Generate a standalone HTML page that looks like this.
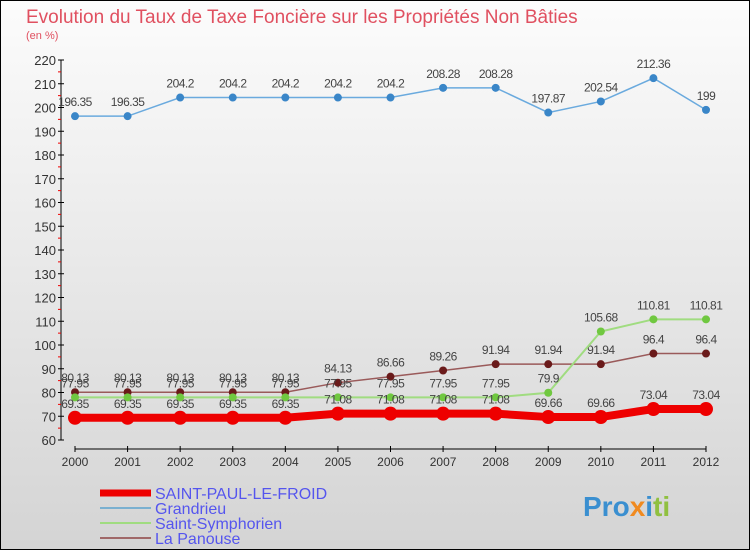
<!DOCTYPE html>
<html><head><meta charset="utf-8"><style>
body{margin:0}
svg text{font-family:"Liberation Sans",sans-serif}
</style></head><body>
<svg width="750" height="550" xmlns="http://www.w3.org/2000/svg">
<defs><linearGradient id="bg" x1="0" y1="0" x2="0" y2="1"><stop offset="0" stop-color="#fcfcfc"/><stop offset="1" stop-color="#d4d4d4"/></linearGradient></defs>
<rect x="0.5" y="0.5" width="749" height="549" fill="url(#bg)" stroke="#000"/>
<text x="26" y="23" font-size="19" fill="#e05060">Evolution du Taux de Taxe Foncière sur les Propriétés Non Bâties</text>
<text x="26" y="39" font-size="11" fill="#e05060">(en %)</text>
<g id="axes"></g>
<g id="series"></g>
<g id="legend"></g>
<text x="583" y="516" font-size="28" font-weight="bold" fill="#3a8fd0">Pro<tspan fill="#f08a20">x</tspan><tspan fill="#3a8fd0">i</tspan><tspan fill="#90c040">ti</tspan></text>
</svg>
<script>
const years=[2000,2001,2002,2003,2004,2005,2006,2007,2008,2009,2010,2011,2012];
const yTicks=[60,70,80,90,100,110,120,130,140,150,160,170,180,190,200,210,220];
const saintPaul=[69.35,69.35,69.35,69.35,69.35,71.08,71.08,71.08,71.08,69.66,69.66,73.04,73.04];
const grandrieu=[196.35,196.35,204.2,204.2,204.2,204.2,204.2,208.28,208.28,197.87,202.54,212.36,199];
const saintSymph=[77.95,77.95,77.95,77.95,77.95,77.95,77.95,77.95,77.95,79.9,105.68,110.81,110.81];
const laPanouse=[80.13,80.13,80.13,80.13,80.13,84.13,86.66,89.26,91.94,91.94,91.94,96.4,96.4];
const NS="http://www.w3.org/2000/svg";
const X=i=>75+i*(706-75)/12, Y=v=>60+(220-v)*380/160;
function mk(t,a,p){const e=document.createElementNS(NS,t);for(const k in a)e.setAttribute(k,a[k]);p.appendChild(e);return e;}
const ax=document.getElementById('axes');
let yl=mk('line',{x1:61,y1:60,x2:61,y2:440,stroke:'#000'},ax);

yTicks.forEach(v=>{mk('line',{x1:58,y1:Y(v),x2:64,y2:Y(v),stroke:'#000'},ax);
 if(v<220)mk('line',{x1:58,y1:Y(v+5),x2:61,y2:Y(v+5),stroke:'#e00'},ax);
 const t=mk('text',{x:56,y:Y(v)+5,'font-size':13,'text-anchor':'end',fill:'#333'},ax);t.textContent=v;
 });
let xl=mk('line',{x1:75,y1:449,x2:706,y2:449,stroke:'#000'},ax);

years.forEach((y,i)=>{mk('line',{x1:X(i),y1:446,x2:X(i),y2:452,stroke:'#000'},ax);
 const t=mk('text',{x:X(i),y:466,'font-size':12,'text-anchor':'middle',fill:'#333'},ax);t.textContent=y;
 });
const sg=document.getElementById('series');
function series(vals,color,dot,w,r,name){
 const g=mk('g',{},sg);
 mk('polyline',{points:vals.map((v,i)=>X(i)+','+Y(v)).join(' '),fill:'none',stroke:color,'stroke-width':w},g);
 vals.forEach((v,i)=>{const c=mk('circle',{cx:X(i),cy:Y(v),r:r,fill:dot},g);
  
  const t=mk('text',{x:X(i),y:Y(v)-10,'font-size':12,'text-anchor':'middle',fill:'#444','letter-spacing':'-0.5'},g);t.textContent=String(v);
  });
}
series(grandrieu,'#6aaade','#3a86c8',1.5,4,'grandrieu-series');
series(laPanouse,'#9a5a5a','#6a1a1a',1.5,4,'la-panouse-series');
series(saintSymph,'#a0dc80','#70c840',2,4,'saint-symphorien-series');
series(saintPaul,'#ee0000','#ee0000',8,7,'saint-paul-series');
const lg=document.getElementById('legend');
[['SAINT-PAUL-LE-FROID','#ee0000',7],['Grandrieu','#7ab0d0',2],['Saint-Symphorien','#a0dc80',2],['La Panouse','#a06868',2]].forEach((d,i)=>{
 const yy=493+i*15;
 const g=mk('g',{},lg);
 mk('line',{x1:100,y1:yy,x2:151,y2:yy,stroke:d[1],'stroke-width':d[2]},g);
 const t=mk('text',{x:155,y:yy+6,'font-size':16,fill:'#5555ee'},g);t.textContent=d[0];});
</script>
</body></html>
